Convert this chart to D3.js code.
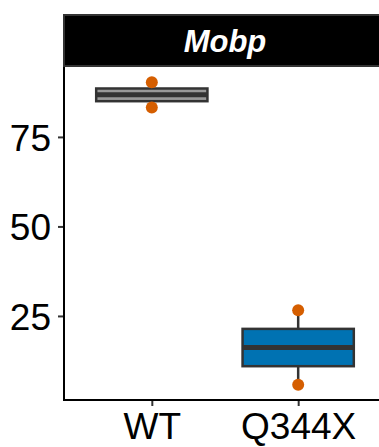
<!DOCTYPE html>
<html>
<head>
<meta charset="utf-8">
<script src="https://cdn.jsdelivr.net/npm/d3@7"></script>
<style>
  html, body { margin: 0; padding: 0; background: #fff; }
  svg { display: block; font-family: "Liberation Sans", Arial, Helvetica, sans-serif; }
</style>
</head>
<body>
<svg id="chart" width="379" height="447"></svg>
<script>
const categories = ["WT", "Q344X"];
const wtValues = [83.2, 90.3];
const q344xValues = [5.75, 26.6];
const yTicks = [25, 50, 75];
const facetLabel = "Mobp";
const fills = {"WT": "#999999", "Q344X": "#0072B2"};

const series = [
  {group: "WT", values: wtValues},
  {group: "Q344X", values: q344xValues}
];

const svg = d3.select("#chart");
const panel = {left: 64, right: 386, top: 67, bottom: 400};
const strip = {top: 14, bottom: 66};

// y scale with ggplot-like 5% expansion
const all = wtValues.concat(q344xValues);
const [mn, mx] = d3.extent(all);
const pad = (mx - mn) * 0.05;
const y = d3.scaleLinear().domain([mn - pad, mx + pad]).range([panel.bottom, panel.top]);

// discrete x with 0.6 expansion
const step = (panel.right - panel.left) / (categories.length - 1 + 1.2);
const x = d3.scalePoint().domain(categories)
  .range([panel.left + 0.6 * step, panel.right - 0.6 * step]);
const boxW = 0.76 * step;

// strip
svg.append("rect")
  .attr("x", panel.left).attr("y", strip.top + 1)
  .attr("width", 400).attr("height", strip.bottom - strip.top - 1)
  .attr("fill", "#000").attr("stroke", "#333").attr("stroke-width", 2);
svg.append("text")
  .attr("x", (panel.left + panel.right) / 2).attr("y", 52)
  .attr("text-anchor", "middle")
  .attr("font-size", 31).attr("font-weight", "bold").attr("font-style", "italic")
  .attr("fill", "#fff").text(facetLabel);

// boxplots
series.forEach(s => {
  const v = s.values.slice().sort(d3.ascending);
  const q1 = d3.quantile(v, 0.25), med = d3.quantile(v, 0.5), q3 = d3.quantile(v, 0.75);
  const iqr = q3 - q1;
  const lo = d3.min(v.filter(d => d >= q1 - 1.5 * iqr));
  const hi = d3.max(v.filter(d => d <= q3 + 1.5 * iqr));
  const cx = x(s.group);
  const g = svg.append("g");
  g.append("line").attr("x1", cx).attr("x2", cx).attr("y1", y(q3)).attr("y2", y(hi))
    .attr("stroke", "#333").attr("stroke-width", 2.5);
  g.append("line").attr("x1", cx).attr("x2", cx).attr("y1", y(q1)).attr("y2", y(lo))
    .attr("stroke", "#333").attr("stroke-width", 2.5);
  g.append("rect").attr("x", cx - boxW / 2).attr("width", boxW)
    .attr("y", y(q3)).attr("height", y(q1) - y(q3))
    .attr("fill", fills[s.group]).attr("stroke", "#333").attr("stroke-width", 2.5);
  g.append("line").attr("x1", cx - boxW / 2).attr("x2", cx + boxW / 2)
    .attr("y1", y(med)).attr("y2", y(med))
    .attr("stroke", "#333").attr("stroke-width", 5);
});

// points (on top)
series.forEach(s => {
  svg.append("g").selectAll("circle").data(s.values).join("circle")
    .attr("cx", x(s.group)).attr("cy", d => y(d)).attr("r", 6)
    .attr("fill", "#D55E00");
});

// axes
const yAxis = svg.append("g").attr("transform", `translate(${panel.left},0)`)
  .call(d3.axisLeft(y).tickValues(yTicks).tickSize(6).tickPadding(7));
const xAxis = svg.append("g").attr("transform", `translate(0,${panel.bottom})`)
  .call(d3.axisBottom(x).tickSize(6).tickPadding(4));
[yAxis, xAxis].forEach(a => {
  a.select(".domain").remove();
  a.selectAll(".tick line").attr("stroke", "#333").attr("stroke-width", 2);
  a.selectAll(".tick text").attr("fill", "#000").attr("font-size", 37)
    .attr("font-family", "Liberation Sans, Arial, sans-serif");
});
yAxis.selectAll(".tick text").attr("dy", "0.36em");
xAxis.selectAll(".tick text").attr("dy", "0.78em");

// axis lines
svg.append("line").attr("x1", panel.left).attr("x2", panel.left)
  .attr("y1", panel.top).attr("y2", panel.bottom + 1)
  .attr("stroke", "#000").attr("stroke-width", 2);
svg.append("line").attr("x1", panel.left - 1).attr("x2", 400)
  .attr("y1", panel.bottom).attr("y2", panel.bottom)
  .attr("stroke", "#000").attr("stroke-width", 2);
</script>
</body>
</html>
